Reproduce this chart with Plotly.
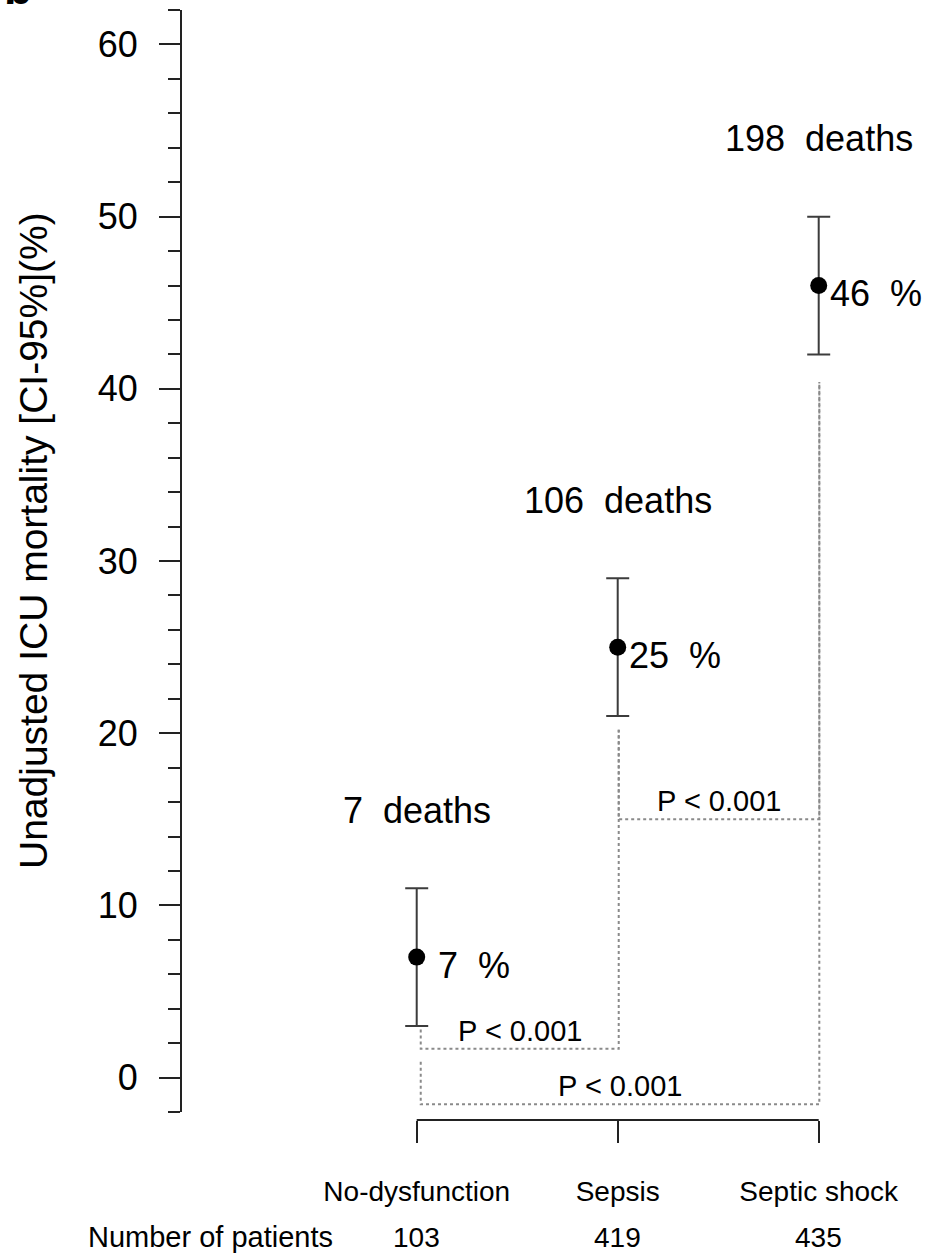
import plotly.graph_objects as go

# ---------------- data ----------------
categories = ["No-dysfunction", "Sepsis", "Septic shock"]
n_patients = [103, 419, 435]
n_deaths = [7, 106, 198]
mortality = [7, 25, 46]
ci_lower = [3, 21, 42]
ci_upper = [11, 29, 50]

# significance brackets (pairs of category indices)
bracket_pairs = [(0, 1), (1, 2), (0, 2)]
bracket_levels = [1.68, 15.0, -1.55]
bracket_left_tops = [2.8, 20.2, 0.93]
bracket_right_tops = [20.2, 40.4, 40.4]
bracket_labels = ["P < 0.001", "P < 0.001", "P < 0.001"]

y_title = "Unadjusted ICU mortality [CI-95%](%)"
row_title = "Number of patients"
panel_letter = "b"

# ---------------- style ----------------
FONT = "Liberation Sans, Arial, Helvetica, sans-serif"
AX = "#222222"
EB = "#3c3c3c"
DOT = "#8a8a8a"
NB = "\u00a0"
line_offsets = [0.02, 0.005, 0.003]

W, H = 926, 1254
ML, MR, MT, MB = 182, 10, 10, 134
plot_w = W - ML - MR
plot_h = H - MT - MB
x_range = [-1.1677, 2.484]

xs = list(range(len(categories)))

fig = go.Figure()

# dotted significance brackets
for (i, j), lvl, lt, rt in zip(bracket_pairs, bracket_levels, bracket_left_tops, bracket_right_tops):
    xi = i + line_offsets[i]
    xj = j + line_offsets[j]
    fig.add_trace(go.Scatter(
        x=[xi, xi, xj, xj], y=[lt, lvl, lvl, rt], mode="lines",
        line=dict(color=DOT, width=2, dash="dot"),
        hoverinfo="skip", showlegend=False))

# points with CI error bars
fig.add_trace(go.Scatter(
    x=xs, y=mortality, mode="markers",
    marker=dict(color="black", size=17),
    error_y=dict(type="data", symmetric=False,
                 array=[u - m for u, m in zip(ci_upper, mortality)],
                 arrayminus=[m - l for m, l in zip(mortality, ci_lower)],
                 color=EB, thickness=2, width=11.5),
    showlegend=False))

annotations = []

# percent labels
for x, m in zip(xs, mortality):
    txt = f"{m:>2}".replace(" ", NB) + NB + NB + "%"
    annotations.append(dict(x=x, y=m, xref="x", yref="y", text=txt, showarrow=False,
                            xanchor="left", yanchor="middle", xshift=9, yshift=-8,
                            font=dict(size=36, color="black", family=FONT)))

# deaths labels
for x, d, u in zip(xs, n_deaths, ci_upper):
    annotations.append(dict(x=x, y=u, xref="x", yref="y", text=f"{d}{NB}{NB}deaths",
                            showarrow=False, xanchor="center", yanchor="middle", yshift=78,
                            font=dict(size=36, color="black", family=FONT)))

# p-value labels
for (i, j), lvl, lab in zip(bracket_pairs, bracket_levels, bracket_labels):
    xm = (i + line_offsets[i] + j + line_offsets[j]) / 2
    annotations.append(dict(x=xm, y=lvl, xref="x", yref="y", text=lab, showarrow=False,
                            xanchor="center", yanchor="middle", yshift=18,
                            font=dict(size=29, color="black", family=FONT)))

# number of patients row
for x, n in zip(xs, n_patients):
    annotations.append(dict(x=x, y=0, xref="x", yref="paper", text=str(n), showarrow=False,
                            xanchor="center", yanchor="middle", yshift=-117,
                            font=dict(size=28, color="black", family=FONT)))
annotations.append(dict(x=(335 - ML) / plot_w, y=0, xref="paper", yref="paper", text=row_title,
                        showarrow=False, xanchor="right", yanchor="middle", yshift=-117,
                        font=dict(size=29, color="black", family=FONT)))

# y-axis title (as rotated annotation, centred like the reference)
annotations.append(dict(x=(33 - ML) / plot_w, y=(H - MB - 541) / plot_h,
                        xref="paper", yref="paper", text=y_title, textangle=-90,
                        showarrow=False, xanchor="center", yanchor="middle",
                        font=dict(size=39, color="black", family=FONT)))

# panel letter (cut at top of the image, as in the reference)
annotations.append(dict(x=(2 - ML) / plot_w, y=1, xref="paper", yref="paper",
                        text="<b>" + panel_letter + "</b>", showarrow=False,
                        xanchor="left", yanchor="bottom", yshift=-6,
                        font=dict(size=46, color="black", family=FONT)))

# x-axis bracket line (from first to last category, R style)
shapes = [dict(type="line", xref="x", yref="paper", x0=xs[0], x1=xs[-1], y0=0, y1=0,
               line=dict(color=AX, width=2))]

y_dom_bottom = (H - MB - 1112.1) / plot_h

fig.update_layout(
    width=W, height=H,
    margin=dict(l=ML, r=MR, t=MT, b=MB),
    paper_bgcolor="white", plot_bgcolor="white",
    font=dict(family=FONT, color="black"),
    showlegend=False,
    annotations=annotations,
    shapes=shapes,
    xaxis=dict(range=x_range, tickvals=xs, ticktext=categories,
               anchor="free", position=0,
               ticks="outside", ticklen=22, tickwidth=2, tickcolor=AX,
               showline=False, showgrid=False, zeroline=False,
               tickfont=dict(size=28, color="black", family=FONT),
               ticklabelstandoff=24),
    yaxis=dict(range=[-2, 62], domain=[y_dom_bottom, 1],
               tick0=0, dtick=10,
               ticks="outside", ticklen=21, tickwidth=2, tickcolor=AX,
               showline=True, linecolor=AX, linewidth=2,
               showgrid=False, zeroline=False,
               minor=dict(tick0=0, dtick=2, ticks="outside", ticklen=12, tickwidth=2,
                          tickcolor=AX, showgrid=False),
               tickfont=dict(size=36, color="black", family=FONT),
               ticklabelstandoff=14),
)

fig.write_html("out.html", config={"displayModeBar": False},
               post_script="document.body.style.margin='0';document.body.style.overflow='hidden';")
